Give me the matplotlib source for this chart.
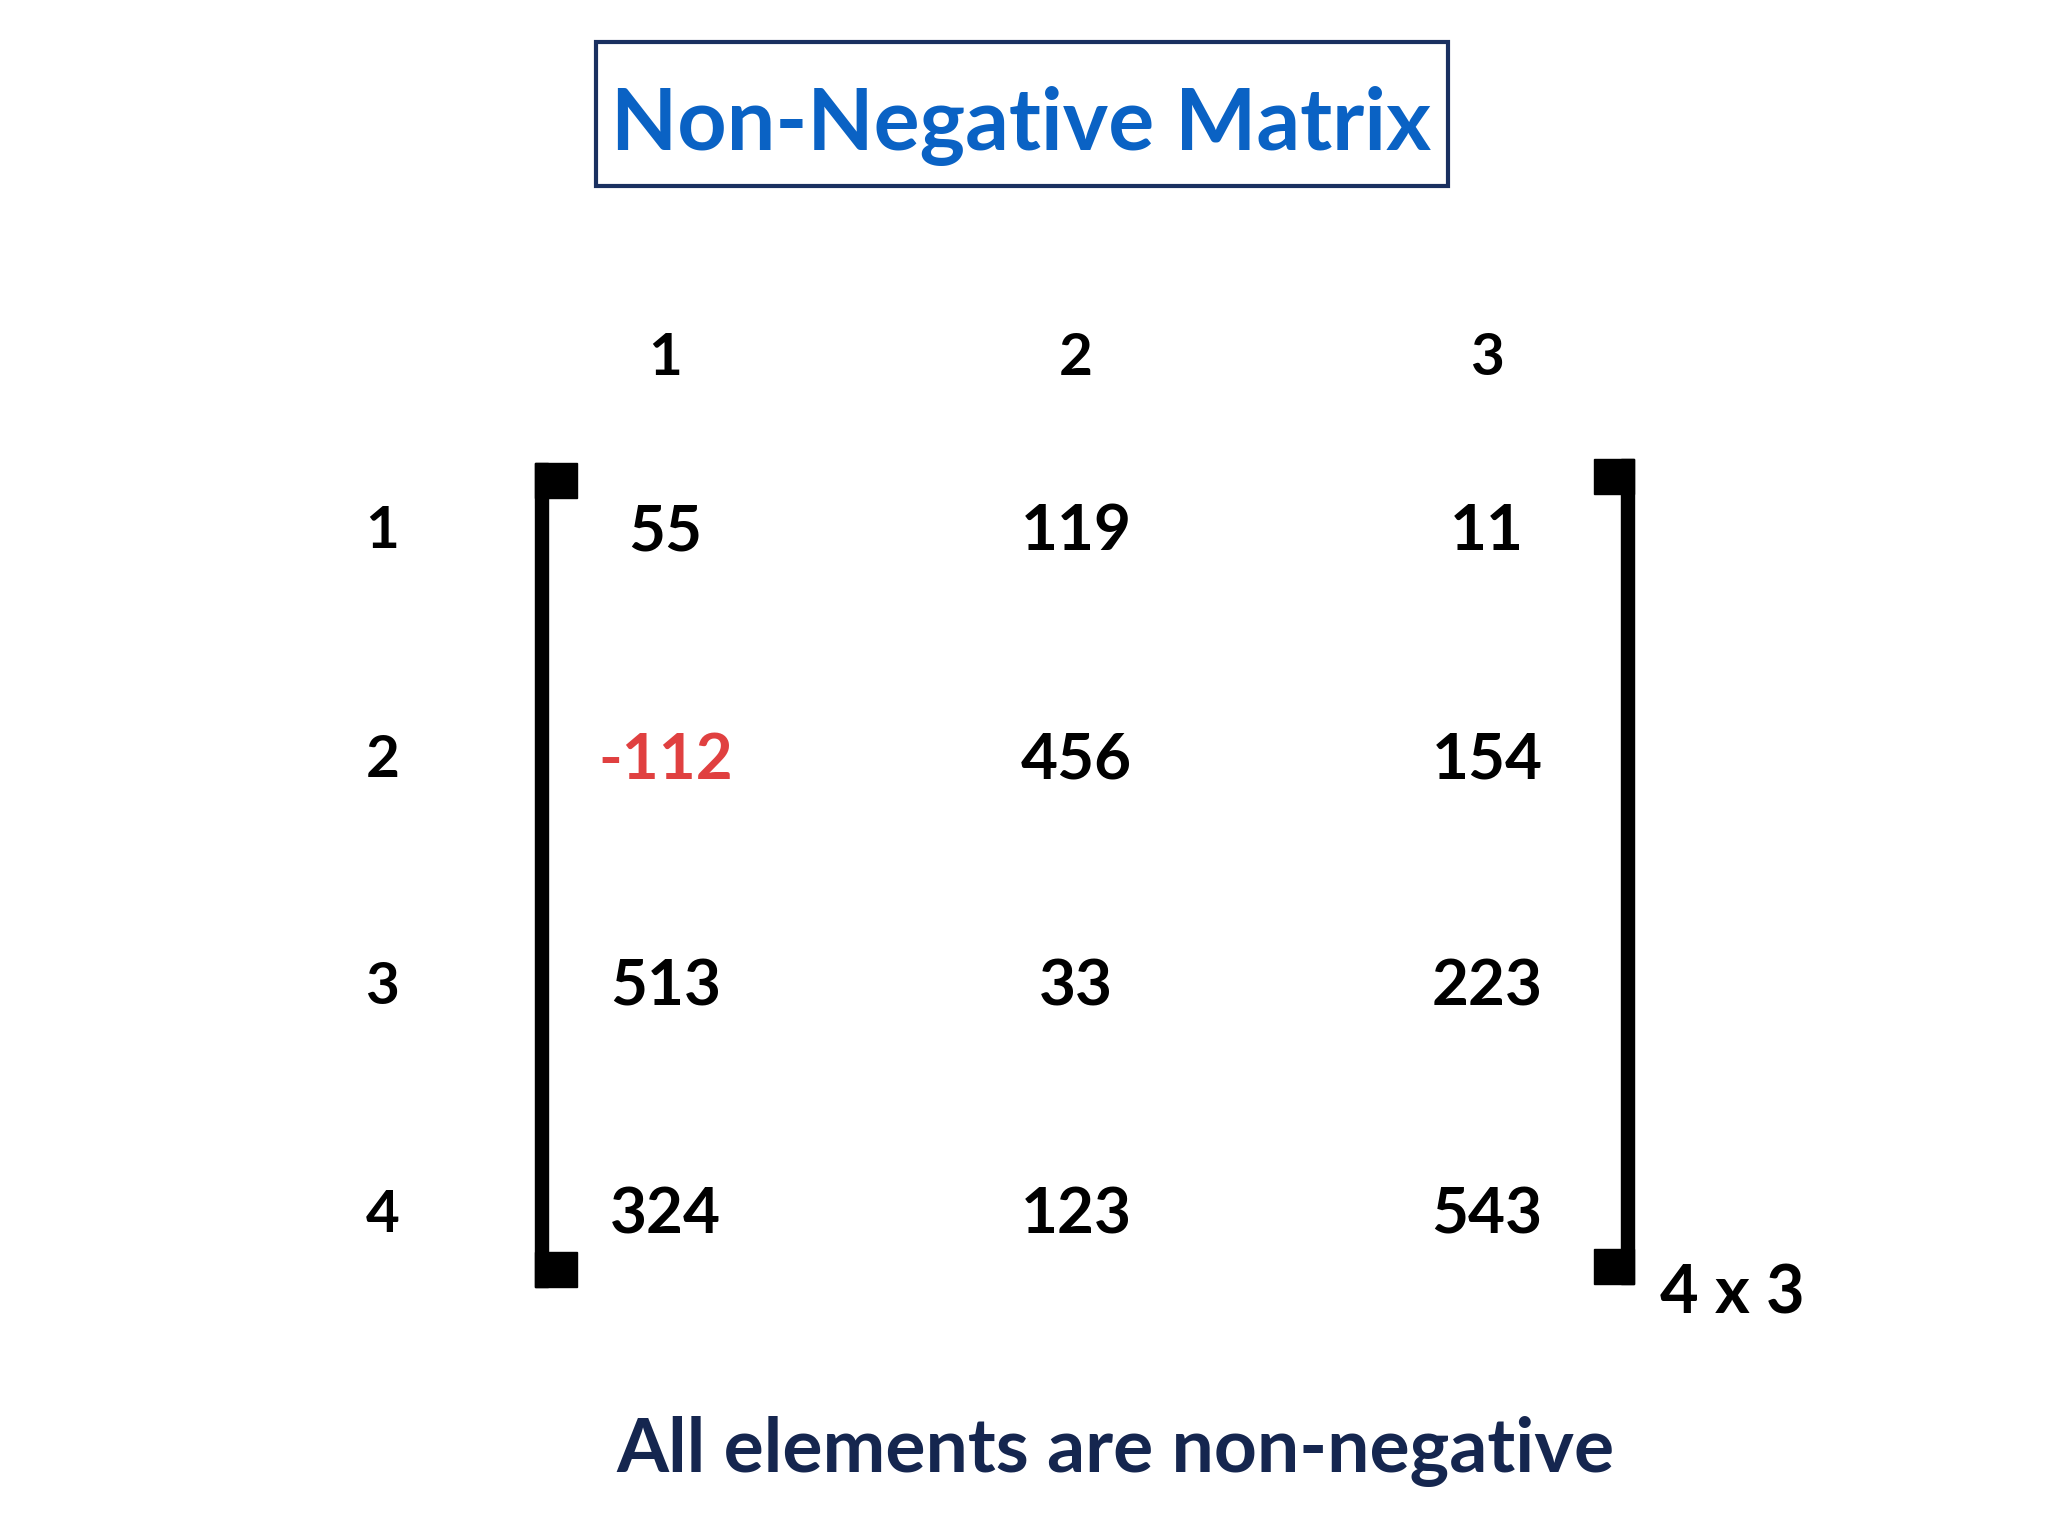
import matplotlib
matplotlib.use("Agg")
import matplotlib.pyplot as plt
from matplotlib.patches import Rectangle

col_labels = ["1", "2", "3"]
row_labels = ["1", "2", "3", "4"]
values = [[55, 119, 11], [-112, 456, 154], [513, 33, 223], [324, 123, 543]]
title = "Non-Negative Matrix"
footer = "All elements are non-negative"
shape_label = "4 x 3"

W, H = 1570, 1178
fig = plt.figure(figsize=(20.48, 15.36), dpi=100)
ax = fig.add_axes([0, 0, 1, 1])
ax.set_xlim(0, W); ax.set_ylim(H, 0); ax.axis("off")
fam = ["Lato", "DejaVu Sans"]

ax.add_patch(Rectangle((457, 32), 653, 111, fill=False, ec="#1a3060", lw=3))
ax.text(783, 97, title, ha="center", va="center", fontsize=62, fontweight="bold",
        color="#0a62c4", family=fam)

col_x = [510, 825, 1140]
row_y = [408, 583, 757, 932]
for x, c in zip(col_x, col_labels):
    ax.text(x, 275, c, ha="center", va="center", fontsize=42, fontweight="bold", family=fam)
for y, r in zip(row_y, row_labels):
    ax.text(293, y, r, ha="center", va="center", fontsize=42, fontweight="bold", family=fam)
for i, y in enumerate(row_y):
    for j, x in enumerate(col_x):
        v = values[i][j]
        ax.text(x, y, str(v), ha="center", va="center", fontsize=46, fontweight="bold",
                color="#e04040" if v < 0 else "black", family=fam)

# brackets
ax.add_patch(Rectangle((410, 355), 10, 632, color="black"))
ax.add_patch(Rectangle((410, 355), 32, 27, color="black"))
ax.add_patch(Rectangle((410, 960), 32, 27, color="black"))
ax.add_patch(Rectangle((1243, 352), 10, 633, color="black"))
ax.add_patch(Rectangle((1222, 352), 31, 27, color="black"))
ax.add_patch(Rectangle((1222, 958), 31, 27, color="black"))

ax.text(1328, 993, shape_label, ha="center", va="center", fontsize=48, fontweight="bold", family=fam)
ax.text(855, 1113, footer, ha="center", va="center", fontsize=54, fontweight="bold",
        color="#15264f", family=fam)

fig.savefig("out.png", dpi=100, facecolor="white")
